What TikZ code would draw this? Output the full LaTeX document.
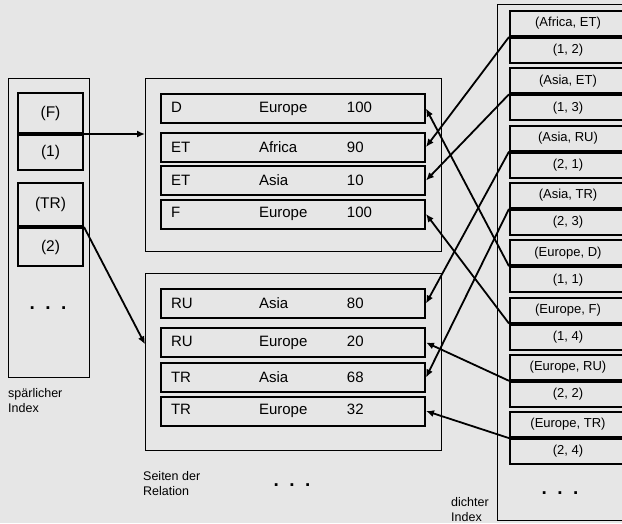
\documentclass[tikz,border=0pt]{standalone}
\usepackage{fontspec}
\setmainfont{Liberation Sans}
\usepackage{tikz}
\usetikzlibrary{arrows.meta,positioning,calc}

\definecolor{bggray}{RGB}{230,230,230}

\newcommand{\rowtxt}[3]{\makebox[88pt][l]{#1}\makebox[88pt][l]{#2}\makebox[68pt][l]{#3}}
\newcommand{\threedots}{.\hspace{10.5pt}.\hspace{10.5pt}.}

\tikzset{
  outer/.style={draw, line width=1.2pt, inner sep=0pt, anchor=north west},
  tuple/.style={draw, line width=2pt, inner xsep=10pt, inner ysep=0pt, minimum height=29pt, anchor=west, font=\fontsize{15}{18}\selectfont},
  scell/.style={draw, line width=2pt, minimum width=65pt, inner sep=0pt, font=\fontsize{15.5}{18}\selectfont},
  dcell/.style={draw, line width=2pt, minimum width=116pt, minimum height=25pt, inner sep=0pt, font=\fontsize{13}{15}\selectfont},
  ptr/.style={-{Latex[length=8pt,width=7pt]}, line width=1.8pt},
  lbl/.style={anchor=north west, inner sep=0pt, align=left, font=\fontsize{12.5}{15.5}\selectfont},
  dotrow/.style={inner sep=0pt, font=\bfseries\fontsize{19}{20}\selectfont}
}

\begin{document}
\begin{tikzpicture}[x=1pt,y=-1pt]
\useasboundingbox (0,0) rectangle (622,523);
\clip (0,0) rectangle (622,523);
\fill[bggray] (0,0) rectangle (622,523);

% sparse index
\node[outer, minimum width=81pt, minimum height=299pt] (sparse) at (8,78) {};
\node[scell, minimum height=40pt, anchor=north west] (sk1) at (17,92) {(F)};
\node[scell, minimum height=35pt, anchor=north] (st1) at (sk1.south) {(1)};
\node[scell, minimum height=43pt, anchor=north west] (sk2) at (17,182) {(TR)};
\node[scell, minimum height=38pt, anchor=north] (st2) at (sk2.south) {(2)};
\node[dotrow] (sdots) at (48,308) {\threedots};
\node[lbl] (sparselbl) at (8,388) {spärlicher\\Index};

% pages of the relation
\node[outer, minimum width=296pt, minimum height=173pt] (page1) at (145,78) {};
\node[outer, minimum width=296pt, minimum height=177pt] (page2) at (145,273) {};
\node[tuple] (p1r1) at (160,108.5) {\rowtxt{D}{Europe}{100}};
\node[tuple] (p1r2) at (160,147) {\rowtxt{ET}{Africa}{90}};
\node[tuple] (p1r3) at (160,180.5) {\rowtxt{ET}{Asia}{10}};
\node[tuple] (p1r4) at (160,214) {\rowtxt{F}{Europe}{100}};
\node[tuple] (p2r1) at (160,303.5) {\rowtxt{RU}{Asia}{80}};
\node[tuple] (p2r2) at (160,342.5) {\rowtxt{RU}{Europe}{20}};
\node[tuple] (p2r3) at (160,377.5) {\rowtxt{TR}{Asia}{68}};
\node[tuple] (p2r4) at (160,411) {\rowtxt{TR}{Europe}{32}};
\node[dotrow] (pdots) at (292,485) {\threedots};
\node[lbl] (pageslbl) at (143,471) {Seiten der\\Relation};

% dense index
\node[outer, minimum width=140pt, minimum height=516pt] (dense) at (497,4) {};
\foreach \i/\ky/\tid in {1/{(Africa, ET)}/{(1, 2)}, 2/{(Asia, ET)}/{(1, 3)},
    3/{(Asia, RU)}/{(2, 1)}, 4/{(Asia, TR)}/{(2, 3)}, 5/{(Europe, D)}/{(1, 1)},
    6/{(Europe, F)}/{(1, 4)}, 7/{(Europe, RU)}/{(2, 2)}, 8/{(Europe, TR)}/{(2, 4)}}{
  \node[dcell, anchor=north west] (dk\i) at (509,{10+57.3*(\i-1)}) {\ky};
  \node[dcell, anchor=north] (dt\i) at (dk\i.south) {\tid};
}
\node[dotrow] (ddots) at (560,493) {\threedots};
\node[lbl] (denselbl) at (451,497) {dichter\\Index};

% pointers
\draw[ptr] (st1.north east) -- (st1.north east -| page1.west);
\draw[ptr] (st2.north east) -- ($(page2.north west)!0.4!(page2.south west)$);
\draw[ptr] (dk1.south west) -- (p1r2.east);
\draw[ptr] (dk2.south west) -- (p1r3.east);
\draw[ptr] (dk3.south west) -- (p2r1.east);
\draw[ptr] (dk4.south west) -- (p2r3.east);
\draw[ptr] (dk5.south west) -- (p1r1.east);
\draw[ptr] (dk6.south west) -- (p1r4.east);
\draw[ptr] (dk7.south west) -- (p2r2.east);
\draw[ptr] (dk8.south west) -- (p2r4.east);
\end{tikzpicture}
\end{document}
